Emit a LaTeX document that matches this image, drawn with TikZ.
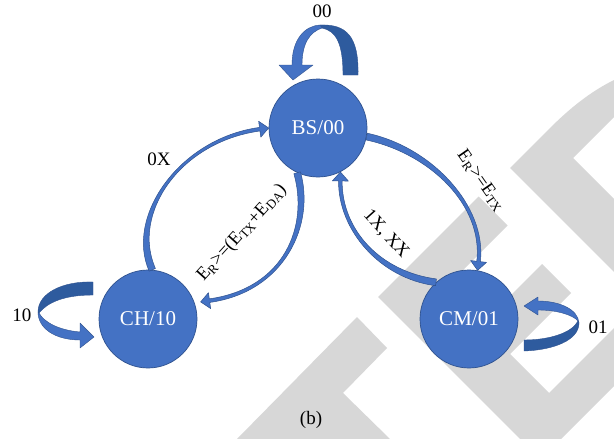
\documentclass[tikz,border=0pt]{standalone}
\usepackage{fontspec}
\setmainfont{Liberation Serif}
\usetikzlibrary{calc}
\definecolor{nodeblue}{HTML}{4472C4}
\definecolor{nodeedge}{HTML}{2F528F}
\definecolor{loopdark}{HTML}{2E5B9E}
\definecolor{wmgray}{RGB}{215,215,215}
% #1 start, #2 control 1, #3 control 2, #4 tip, #5 tail half width, #6 head-end half width
\newcommand{\curvedconn}[6]{%
  \coordinate (cS) at #1;
  \coordinate (cA) at #2;
  \coordinate (cB) at #3;
  \coordinate (cT) at #4;
  \coordinate (cE) at ($(cT)!9pt!(cB)$);
  \filldraw[connfill] ($(cS)!#5!90:(cA)$) .. controls ($(cA)!#5!-90:(cS)$) and ($(cB)!#6!90:(cE)$) .. ($(cE)!#6!-90:(cB)$)
     -- ($(cE)!8pt!-90:(cB)$) -- (cT) -- ($(cE)!8pt!90:(cB)$) -- ($(cE)!#6!90:(cB)$)
     .. controls ($(cB)!#6!-90:(cE)$) and ($(cA)!#5!90:(cS)$) .. ($(cS)!#5!-90:(cA)$) -- cycle;
}
\begin{document}
\begin{tikzpicture}[x=1pt,y=-1pt,
  state/.style={circle, fill=nodeblue, draw=nodeedge, line width=0.7pt, minimum size=98pt, inner sep=0pt, text=white, font=\fontsize{21}{24}\selectfont},
  lbl/.style={font=\fontsize{19}{22}\selectfont, inner sep=0pt},
  elbl/.style={font=\fontsize{18.5}{21}\selectfont, inner sep=0pt},
  connfill/.style={fill=nodeblue, draw=nodeedge, line width=0.5pt, line join=round},
  loopdarkfill/.style={fill=loopdark, draw=nodeedge, line width=0.4pt, line join=round},
  looplightfill/.style={fill=nodeblue, draw=nodeedge, line width=0.4pt, line join=round},
  wm/.style={fill=wmgray}
]
\useasboundingbox (0,0) rectangle (614,439);
\fill[white] (0,0) rectangle (614,439);
% watermark
\fill[wm] (510,168) -- (548,130) .. controls (570,108) and (590,92) .. (614,80) -- (614,117) -- (573,158) -- (614,199) -- (614,272) -- cycle;
\fill[wm] (378,297) -- (478.5,196.5) -- (507.5,225.5) -- (444.5,288.5) -- (481,325) -- (542,264) -- (571,293) -- (510,354) -- (549,393) -- (614,328) -- (614,386) -- (561,439) -- (520,439) -- cycle;
\fill[wm] (237,439) -- (357,317) -- (387,348) -- (343,393) -- (390,439) -- cycle;

% states
\node[state] (bs) at (318,128) {BS/00};
\node[state] (ch) at (148,319) {CH/10};
\node[state] (cm) at (469,319) {CM/01};

% connectors
\curvedconn{(ch.85)}{(128,215)}{(180,140)}{(bs.180)}{3.4pt}{1.8pt}
\curvedconn{(bs.245)}{(312,225)}{(285,290)}{($(ch.18)!-6pt!(ch.center)$)}{3.4pt}{1.8pt}
\curvedconn{(bs.-10)}{(430,150)}{(485,205)}{(cm.80)}{3.4pt}{1.8pt}
\curvedconn{(cm.132)}{(380,275)}{(340,230)}{(bs.-63)}{3.4pt}{1.8pt}

% self loops
\begin{scope}[shift={(bs.center)}]
  \filldraw[loopdarkfill] (40,-53) .. controls (41,-92) and (28,-104) .. (2,-103) -- (4,-100) .. controls (18,-97) and (25,-85) .. (25,-53) -- cycle;
  \filldraw[looplightfill] (2,-103) .. controls (-14,-102) and (-26,-88) .. (-26,-63) -- (-39,-63) -- (-25,-48) -- (-5,-63) -- (-16,-63) .. controls (-16,-85) and (-8,-96) .. (4,-100) -- cycle;
\end{scope}
\begin{scope}[shift={(ch.center)}]
  \filldraw[loopdarkfill] (-55,-37) .. controls (-85,-38) and (-110,-26) .. (-110,-7) -- (-109,-6) .. controls (-101,-16) and (-85,-24) .. (-55,-24) -- cycle;
  \filldraw[looplightfill] (-110,-7) .. controls (-110,10) and (-92,21) .. (-68,21) -- (-68,29) -- (-54,18) -- (-68,4) -- (-68,13) .. controls (-90,11) and (-104,3) .. (-109,-6) -- cycle;
\end{scope}
\begin{scope}[shift={(cm.center)}]
  \filldraw[loopdarkfill] (55,32) .. controls (85,31) and (110,21) .. (110,4) -- (109,2) .. controls (103,14) and (80,21) .. (55,21) -- cycle;
  \filldraw[looplightfill] (110,4) .. controls (109,-10) and (90,-18) .. (69,-18) -- (69,-22) -- (55,-13) -- (69,-4) -- (69,-9) .. controls (88,-9) and (104,-4) .. (109,2) -- cycle;
\end{scope}

% labels
\node[lbl] (l00) at (322,11) {00};
\node[lbl] (l0x) at (159,159) {0X};
\node[lbl] (l10) at (22,315) {10};
\node[lbl] (l01) at (598,327) {01};
\node[lbl] (lb) at (311,420) {(b)};
\node[elbl, rotate=48] (le1) at (242,233) {E\textsubscript{R}>=(E\textsubscript{TX}+E\textsubscript{DA})};
\node[elbl, rotate=-55] (le2) at (481,181) {E\textsubscript{R}>=E\textsubscript{TX}};
\node[elbl, rotate=-48] (le3) at (386,234) {1X, XX};
\end{tikzpicture}
\end{document}
